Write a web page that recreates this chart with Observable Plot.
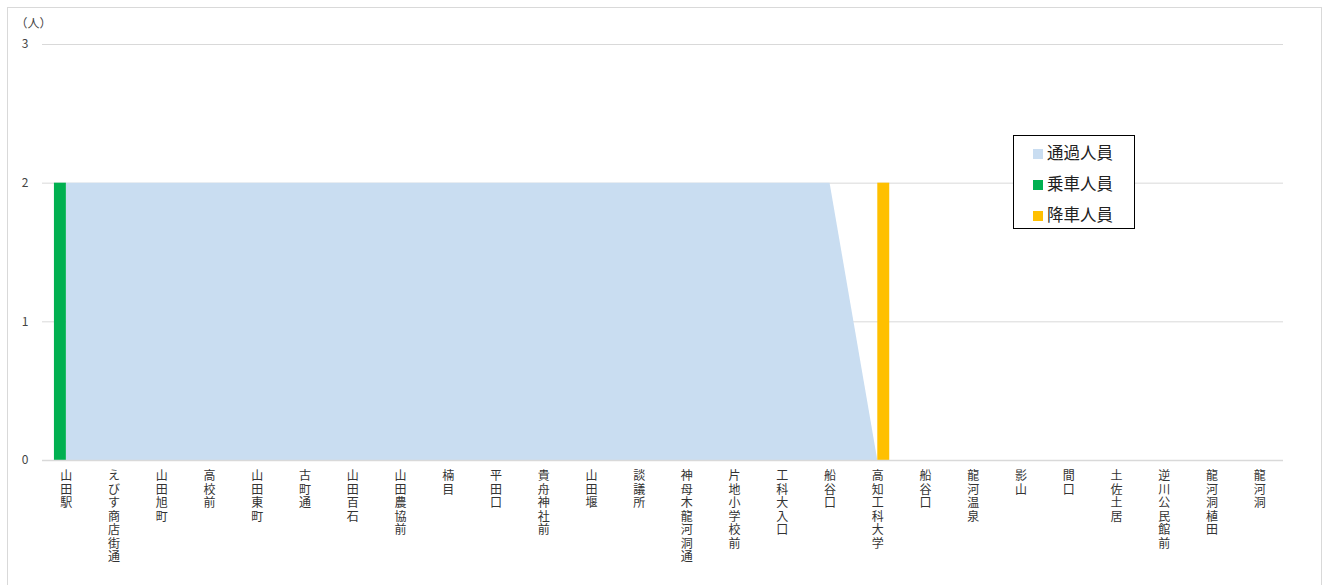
<!DOCTYPE html>
<html><head><meta charset="utf-8">
<script src="https://cdn.jsdelivr.net/npm/d3@7"></script>
<script src="https://cdn.jsdelivr.net/npm/@observablehq/plot@0.6"></script>
<style>
body{margin:0;background:#fff;font-family:"Noto Sans CJK JP","Noto Sans",sans-serif;}
#wrap{position:relative;width:1328px;height:585px;overflow:hidden;}
#frame{position:absolute;left:7px;top:7px;width:1313px;height:620px;border:1px solid #d9d9d9;}
#chart{position:absolute;left:0;top:0;}
#legend{position:absolute;left:1013px;top:135px;width:120px;height:92px;border:1px solid #000;background:#fff;font-size:16.5px;color:#222;}
.li{position:absolute;left:19px;height:20px;line-height:20px;}
.sw{display:inline-block;width:10px;height:10px;margin-right:4px;vertical-align:0px;}
</style></head>
<body>
<div id="wrap"><div id="frame"></div><div id="chart"></div>
<div id="legend"></div></div>
<script>
const stations = ["山田駅","えびす商店街通","山田旭町","高校前","山田東町","古町通","山田百石","山田農協前","楠目","平田口","貴舟神社前","山田堰","談議所","神母木龍河洞通","片地小学校前","工科大入口","船谷口","高知工科大学","船谷口","龍河温泉","影山","間口","土佐土居","逆川公民館前","龍河洞植田","龍河洞"];
const passing   = [2,2,2,2,2,2,2,2,2,2,2,2,2,2,2,2,2,0,0,0,0,0,0,0,0,0];
const boarding  = [2,0,0,0,0,0,0,0,0,0,0,0,0,0,0,0,0,0,0,0,0,0,0,0,0,0];
const alighting = [0,0,0,0,0,0,0,0,0,0,0,0,0,0,0,0,0,2,0,0,0,0,0,0,0,0];
const yTicks = [0,1,2,3];
const seriesNames = ["通過人員","乗車人員","降車人員"];
const seriesColors = ["#C9DDF1","#00B050","#FFC000"];

const rows = stations.map((s,i)=>({i, s, pass: passing[i], board: boarding[i], alight: alighting[i]}));
const areaRows = rows.filter(d => d.i <= 17);

const plot = Plot.plot({
  width: 1328, height: 585,
  marginLeft: 42, marginRight: 45, marginTop: 44, marginBottom: 125,
  style: {fontFamily: '"Noto Sans CJK JP","Noto Sans",sans-serif', background: "transparent"},
  x: {domain: [-0.5, stations.length - 0.5]},
  y: {domain: [0, 3]},
  marks: [
    Plot.gridY(yTicks, {stroke: "#d9d9d9", strokeOpacity: 1, strokeWidth: 1}),
    Plot.areaY(areaRows, {x: "i", y: "pass", fill: seriesColors[0]}),
    Plot.rectY(rows.filter(d => d.board > 0), {x1: d => d.i - 0.25, x2: d => d.i, y: "board", fill: seriesColors[1]}),
    Plot.rectY(rows.filter(d => d.alight > 0), {x1: d => d.i, x2: d => d.i + 0.25, y: "alight", fill: seriesColors[2]}),
    Plot.ruleY([0], {stroke: "#d9d9d9", strokeWidth: 1.5}),
    Plot.axisY(yTicks, {tickSize: 0, tickPadding: 14, label: null, fontSize: 12, fill: "#444", textAnchor: "end", tickFormat: d3.format("d")}),
    Plot.axisX(d3.range(stations.length), {
      tickSize: 0, tickPadding: 10, label: null, fontSize: 12, fill: "#333",
      lineHeight: 1.13,
      tickFormat: i => stations[i].split("").join("\n")
    }),
    Plot.text(["（人）"], {frameAnchor: "top-left", dx: -27, dy: -25, fontSize: 12, fill: "#444", textAnchor: "start"})
  ]
});
document.getElementById("chart").appendChild(plot);

const lg = document.getElementById("legend");
seriesNames.forEach((n, k) => {
  const el = document.createElement("div");
  el.className = "li";
  el.style.top = (6 + k * 31) + "px";
  el.innerHTML = `<span class="sw" style="background:${seriesColors[k]}"></span>${n}`;
  lg.appendChild(el);
});
</script>
</body></html>
